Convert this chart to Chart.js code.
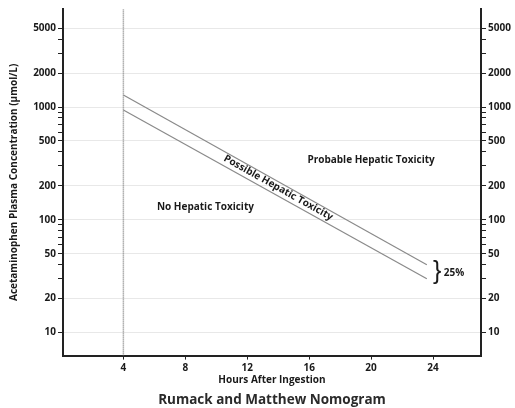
<!DOCTYPE html>
<html>
<head>
<meta charset="utf-8">
<script src="https://cdn.jsdelivr.net/npm/chart.js@4.4.0/dist/chart.umd.min.js"></script>
<style>
  html, body { margin: 0; padding: 0; background: #fff; }
  #wrap { width: 515px; height: 408px; }
</style>
</head>
<body>
<div id="wrap"><canvas id="nomogram"></canvas></div>
<script>
var hours = [4, 23.6]
var upperLine = [1276, 40]
var lowerLine = [940, 30]
var treatmentStart = 4
var xTicks = [4, 8, 12, 16, 20, 24]
var yLabelTicks = [10, 20, 50, 100, 200, 500, 1000, 2000, 5000]
var yMinorTicks = [30, 40, 60, 70, 80, 90, 300, 400, 600, 700, 800, 900, 3000, 4000]
var yMin = 6.25
var yMax = 7400

var fontFamily = '"Open Sans", "DejaVu Sans", sans-serif'
var ink = '#1a1a1a'
var allYTicks = yLabelTicks.concat(yMinorTicks).sort(function (a, b) { return a - b })

function pts(ys) {
    return hours.map(function (h, i) { return { x: h, y: ys[i] } })
}

function yTicks(s) {
    s.ticks = allYTicks.map(function (v) { return { value: v } })
}

var zoneText = {
    id: 'zoneText',
    afterDatasetsDraw: function (chart) {
        var ctx = chart.ctx
        var x = chart.scales.x
        var y = chart.scales.y
        ctx.save()
        ctx.fillStyle = ink
        ctx.font = 'bold 10px ' + fontFamily
        ctx.textAlign = 'center'
        ctx.textBaseline = 'middle'
        ctx.fillText('No Hepatic Toxicity', x.getPixelForValue(9.3), y.getPixelForValue(130))
        ctx.fillText('Probable Hepatic Toxicity', x.getPixelForValue(20), y.getPixelForValue(340))

        // label along the band between the two lines
        var x0 = x.getPixelForValue(hours[0]), y0 = y.getPixelForValue(upperLine[0])
        var x1 = x.getPixelForValue(hours[1]), y1 = y.getPixelForValue(upperLine[1])
        ctx.save()
        ctx.translate(x.getPixelForValue(14), y.getPixelForValue(192))
        ctx.rotate(Math.atan2(y1 - y0, x1 - x0))
        ctx.fillText('Possible Hepatic Toxicity', 0, 0)
        ctx.restore()

        // } 25%
        var midY = y.getPixelForValue(Math.sqrt(upperLine[1] * lowerLine[1]))
        ctx.textAlign = 'left'
        ctx.font = '25px "Liberation Sans", sans-serif'
        ctx.fillText('}', x.getPixelForValue(24.0), midY)
        ctx.font = 'bold 10px ' + fontFamily
        ctx.fillText('25%', x.getPixelForValue(24.7), midY + 1)
        ctx.restore()
    }
}

var tickFont = { family: fontFamily, size: 10, weight: 'bold' }

new Chart('nomogram', {
    type: 'line',
    data: {
        datasets: [{
            data: pts(upperLine),
            borderColor: '#8a8a8a',
            borderWidth: 1.2,
            pointRadius: 0,
        }, {
            data: pts(lowerLine),
            borderColor: '#8a8a8a',
            borderWidth: 1.2,
            pointRadius: 0,
        }, {
            data: [{ x: treatmentStart, y: yMin }, { x: treatmentStart, y: yMax }],
            borderColor: '#808080',
            borderWidth: 1.5,
            borderDash: [1, 1],
            pointRadius: 0,
        }]
    },
    options: {
        responsive: true,
        maintainAspectRatio: false,
        animation: false,
        layout: { padding: { top: 9, left: 0, right: 0, bottom: 0 } },
        plugins: {
            legend: { display: false },
            tooltip: { enabled: false },
            title: {
                display: true,
                position: 'bottom',
                fullSize: false,
                text: 'Rumack and Matthew Nomogram',
                color: '#2a2a2a',
                font: { family: fontFamily, size: 13.5, weight: 'bold' },
                padding: { top: 6, bottom: 0 }
            }
        },
        scales: {
            x: {
                type: 'linear',
                min: 0.1,
                max: 27.1,
                afterBuildTicks: function (s) { s.ticks = xTicks.map(function (v) { return { value: v } }) },
                afterFit: function (s) { s.height = 30.2 },
                grid: { drawOnChartArea: false, tickLength: 4, tickColor: '#222' },
                border: { color: '#222', width: 2 },
                ticks: { font: tickFont, color: ink, padding: 3, autoSkip: false, maxRotation: 0 },
                title: {
                    display: true,
                    text: 'Hours After Ingestion',
                    color: ink,
                    font: tickFont,
                    padding: 0
                }
            },
            y: {
                type: 'logarithmic',
                position: 'left',
                min: yMin,
                max: yMax,
                afterBuildTicks: yTicks,
                afterFit: function (s) { s.width = 63 },
                grid: {
                    color: function (c) { return yLabelTicks.indexOf(c.tick.value) >= 0 ? '#e8e8e8' : 'rgba(0,0,0,0)' },
                    tickColor: '#222',
                    tickLength: 5,
                },
                border: { color: '#222', width: 2 },
                ticks: {
                    font: tickFont,
                    color: ink,
                    padding: 2,
                    autoSkip: false,
                    callback: function (v) { return yLabelTicks.indexOf(v) >= 0 ? String(v) : '' }
                },
                title: {
                    display: true,
                    text: 'Acetaminophen Plasma Concentration (μmol/L)',
                    color: ink,
                    font: tickFont,
                    padding: { top: 8, bottom: 0 }
                }
            },
            y2: {
                type: 'logarithmic',
                position: 'right',
                min: yMin,
                max: yMax,
                afterBuildTicks: yTicks,
                afterFit: function (s) { s.width = 34 },
                grid: { drawOnChartArea: false, tickColor: '#222', tickLength: 5 },
                border: { color: '#222', width: 2 },
                ticks: {
                    font: tickFont,
                    color: ink,
                    padding: 2,
                    autoSkip: false,
                    callback: function (v) { return yLabelTicks.indexOf(v) >= 0 ? String(v) : '' }
                }
            }
        }
    },
    plugins: [zoneText]
})
</script>
</body>
</html>
